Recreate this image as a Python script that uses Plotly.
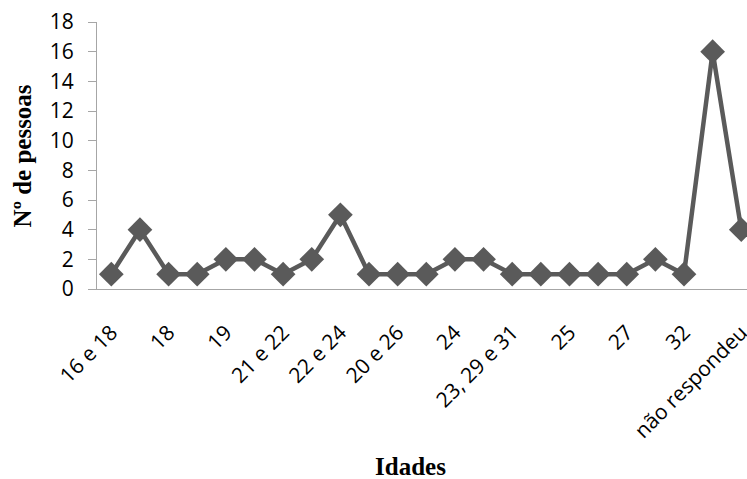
import plotly.graph_objects as go

# Number of people per age group (23 groups, every other group labelled on the axis)
counts = [1, 4, 1, 1, 2, 2, 1, 2, 5, 1, 1, 1, 2, 2, 1, 1, 1, 1, 1, 2, 1, 16, 4]
label_positions = [0, 2, 4, 6, 8, 10, 12, 14, 16, 18, 20, 22]
age_labels = ["16 e 18", "18", "19", "21 e 22", "22 e 24", "20 e 26", "24",
              "23, 29 e 31", "25", "27", "32", "não respondeu"]
y_ticks = [0, 2, 4, 6, 8, 10, 12, 14, 16, 18]

positions = list(range(len(counts)))

fig = go.Figure(
    go.Scatter(
        x=positions,
        y=counts,
        mode="lines+markers",
        line=dict(color="#5a5a5a", width=4.5),
        marker=dict(symbol="diamond", size=19, color="#5a5a5a"),
        cliponaxis=False,
        hoverinfo="x+y",
    )
)

sans = "Open Sans, Noto Sans, sans-serif"
serif = "Liberation Serif, Times New Roman, serif"

fig.update_layout(
    width=747,
    height=479,
    margin=dict(l=97, r=0, t=22, b=190),
    paper_bgcolor="white",
    plot_bgcolor="white",
    showlegend=False,
    xaxis=dict(
        range=[-0.5, 22.2],
        automargin=False,
        tickmode="array",
        tickvals=label_positions,
        ticktext=age_labels,
        tickangle=-45,
        tickfont=dict(family=sans, size=21, color="#000000"),
        ticklabelstandoff=22,
        ticklabeloverflow="allow",
        showgrid=False,
        zeroline=False,
        showline=True,
        linecolor="#a6a6a6",
        linewidth=1,
        ticks="",
    ),
    yaxis=dict(
        range=[0, 18],
        automargin=False,
        tickmode="array",
        tickvals=y_ticks,
        tickfont=dict(family=sans, size=21, color="#000000"),
        ticklabelstandoff=10,
        showgrid=False,
        zeroline=False,
        showline=True,
        linecolor="#a6a6a6",
        linewidth=1,
        ticks="outside",
        ticklen=8,
        tickcolor="#a6a6a6",
    ),
    annotations=[
        dict(
            text="<b>Idades</b>",
            xref="paper", yref="paper",
            x=0.483, y=-0.663,
            xanchor="center", yanchor="middle",
            showarrow=False,
            font=dict(family=serif, size=25, color="#000000"),
        ),
        dict(
            text="<b>Nº de pessoas</b>",
            xref="paper", yref="paper",
            x=-0.114, y=0.5,
            xanchor="center", yanchor="middle",
            textangle=-90,
            showarrow=False,
            font=dict(family=serif, size=25, color="#000000"),
        ),
    ],
)

fig.write_html("out.html")
